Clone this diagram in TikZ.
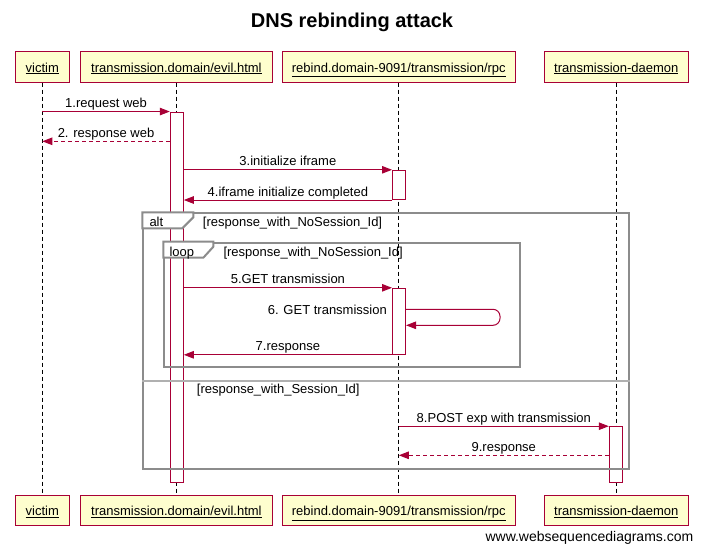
\documentclass[tikz,border=0pt]{standalone}
\usepackage{fontspec}
\setmainfont{Liberation Sans}
\usetikzlibrary{arrows.meta}
\definecolor{wsdred}{HTML}{A80036}
\definecolor{wsdfill}{HTML}{FEFECE}
\definecolor{framegray}{HTML}{8C8C8C}
\definecolor{elsegray}{HTML}{B0B0B0}
\begin{document}
\begin{tikzpicture}[x=1pt,y=-1pt,
  part/.style={draw=wsdred, fill=wsdfill, line width=1pt, minimum height=30pt, inner sep=0pt, text height=13pt, text depth=3pt, font=\fontsize{13}{15}\selectfont},
  life/.style={black, line width=1pt, dash pattern=on 4pt off 3pt},
  act/.style={draw=wsdred, fill=white, line width=1pt, minimum width=13pt, inner sep=0pt},
  msg/.style={wsdred, line width=1pt, -{Triangle[length=10pt,width=7.5pt]}},
  rmsg/.style={msg, dash pattern=on 4pt off 3pt},
  lab/.style={anchor=base, font=\fontsize{13}{15}\selectfont, inner sep=0pt, text=black},
  frm/.style={draw=framegray, line width=2pt, inner sep=0pt},
  tabshape/.style={draw=framegray, fill=white, line width=2pt},
  tabtext/.style={anchor=base west, font=\fontsize{13}{15}\selectfont, inner sep=0pt},
]
\useasboundingbox (0,0) rectangle (703,551);

% title
\node[font=\bfseries\fontsize{20}{24}\selectfont] (title) at (352,22) {DNS rebinding attack};

% participants top
\node[part, minimum width=54pt]    (vT) at (42.3,67) {\underline{victim}};
\node[part, minimum width=192.7pt] (eT) at (176.4,67) {\underline{transmission.domain/evil.html}};
\node[part, minimum width=233pt]   (rT) at (398.8,67) {\underline{rebind.domain-9091/transmission/rpc}};
\node[part, minimum width=144pt]   (dT) at (616.3,67) {\underline{transmission-daemon}};
% participants bottom
\node[part, minimum width=54pt]    (vB) at (42.3,510.8) {\underline{victim}};
\node[part, minimum width=192.7pt] (eB) at (176.4,510.8) {\underline{transmission.domain/evil.html}};
\node[part, minimum width=233pt]   (rB) at (398.8,510.8) {\underline{rebind.domain-9091/transmission/rpc}};
\node[part, minimum width=144pt]   (dB) at (616.3,510.8) {\underline{transmission-daemon}};

% lifelines
\draw[life] (vT.south) -- (vB.north);
\draw[life] (eT.south) -- (eB.north);
\draw[life] (rT.south) -- (rB.north);
\draw[life] (dT.south) -- (dB.north);

% activations
\node[act, minimum height=370.3pt] (aE)  at (176.8,297.2) {};
\node[act, minimum height=29.2pt]  (aR1) at (399,184.9) {};
\node[act, minimum height=66pt]    (aR2) at (399,321.3) {};
\node[act, minimum height=55.6pt]  (aD)  at (615.8,454.5) {};

% frames
\node[frm, minimum width=485.4pt, minimum height=255.4pt] (alt) at (386,341) {};
\draw[tabshape] (alt.north west) -- ++(51,0) -- ++(0,5) -- ++(-11,11) -- ++(-40,0) -- cycle;
\node[tabtext] (altT) at (149.3,226) {alt};
\node[tabtext] (altL) at (202.7,226) {[response\_with\_NoSession\_Id]};

\node[frm, minimum width=355.7pt, minimum height=124.6pt] (loop) at (342.2,305) {};
\draw[tabshape] (loop.north west) -- ++(50,0) -- ++(0,5) -- ++(-10,11) -- ++(-40,0) -- cycle;
\node[tabtext] (loopT) at (169.3,256) {loop};
\node[tabtext] (loopL) at (223.3,256) {[response\_with\_NoSession\_Id]};

\draw[elsegray, line width=1.5pt] (alt.west |- 0,381) -- (alt.east |- 0,381);
\node[tabtext] (elseL) at (196.7,393) {[response\_with\_Session\_Id]};

% messages
\draw[msg] (vT.south |- aE.north) -- (aE.north west)
  node[midway, lab, yshift=4pt] {1.request web};
\draw[rmsg] (aE.west |- 0,141.3) -- (vT.south |- 0,141.3)
  node[midway, lab, yshift=4pt] {2. response web};
\draw[msg] (aE.east |- aR1.north) -- (aR1.north west)
  node[midway, lab, yshift=4pt] {3.initialize iframe};
\draw[msg] (aR1.south west) -- (aE.east |- aR1.south)
  node[midway, lab, yshift=4pt] {4.iframe initialize completed};
\draw[msg] (aE.east |- aR2.north) -- (aR2.north west)
  node[midway, lab, yshift=4pt] {5.GET transmission};
\coordinate (selfR) at (500,317);
\draw[msg, rounded corners=7pt] (aR2.east |- 0,309.3) -- (selfR |- 0,309.3) -- (selfR |- 0,325.3) -- (aR2.east |- 0,325.3);
\node[lab, anchor=base east] (l6) at (387,314) {6. GET transmission};
\draw[msg] (aR2.south west) -- (aE.east |- aR2.south)
  node[midway, lab, yshift=4pt] {7.response};
\draw[msg] (rT.south |- aD.north) -- (aD.north west)
  node[midway, lab, yshift=4pt] {8.POST exp with transmission};
\draw[rmsg] (aD.west |- 0,455.3) -- (rT.south |- 0,455.3)
  node[midway, lab, yshift=4pt] {9.response};

% watermark
\node[anchor=base east, font=\fontsize{14}{16}\selectfont, inner sep=0pt] (wm) at (693.5,541) {www.websequencediagrams.com};
\end{tikzpicture}
\end{document}
